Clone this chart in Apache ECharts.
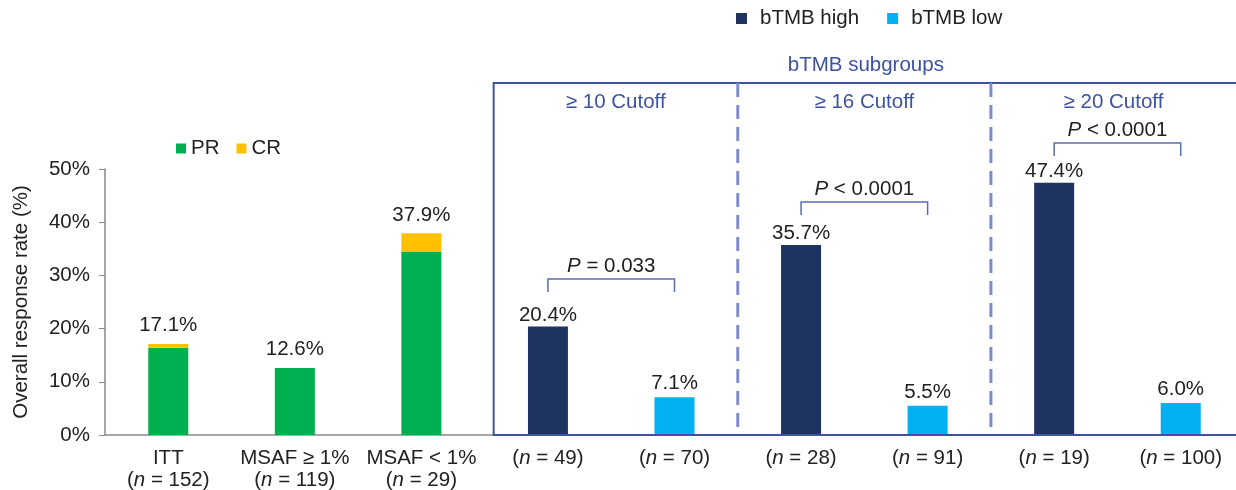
<!DOCTYPE html>
<html>
<head>
<meta charset="utf-8">
<script src="https://cdn.jsdelivr.net/npm/echarts@6/dist/echarts.min.js"></script>
<style>
  html, body { margin: 0; padding: 0; background: #fff; }
  #chart { width: 1236px; height: 490px; }
</style>
</head>
<body>
<div id="chart"></div>
<script>
// categories and n labels
const categories = ['ITT', 'MSAF ≥ 1%', 'MSAF < 1%', '', '', '', '', '', ''];
const nLabels = ['152', '119', '29', '49', '70', '28', '91', '19', '100'];

// overall response, %
const prValues = [16.4, 12.6, 34.5, '-', '-', '-', '-', '-', '-'];
const crValues = [0.7, 0, 3.4, '-', '-', '-', '-', '-', '-'];
const totalLabels = ['17.1%', '12.6%', '37.9%'];
const highValues = ['-', '-', '-', 20.4, '-', 35.7, '-', 47.4, '-'];
const lowValues = ['-', '-', '-', '-', 7.1, '-', 5.5, '-', 6.0];

// subgroup annotations
const cutoffLabels = ['≥ 10 Cutoff', '≥ 16 Cutoff', '≥ 20 Cutoff'];
const pLabels = ['= 0.033', '< 0.0001', '< 0.0001'];
const bracketLevels = [29.3, 43.8, 54.9];
const bracketPairs = [[3, 4], [5, 6], [7, 8]];

const FONT = '"Liberation Sans", Arial, sans-serif';
const FS = 20.5;
const BLUE = '#3d52a1';

const chart = echarts.init(document.getElementById('chart'));

chart.setOption({
  animation: false,
  textStyle: { fontFamily: FONT },
  legend: [
    {
      left: 176,
      top: 138,
      padding: 0,
      icon: 'rect',
      itemWidth: 10,
      itemHeight: 10,
      itemGap: 17,
      data: ['PR', 'CR'],
      textStyle: { fontSize: FS, color: '#222', fontFamily: FONT },
    },
    {
      left: 736,
      top: 8,
      padding: 0,
      icon: 'rect',
      itemWidth: 11,
      itemHeight: 11,
      itemGap: 28,
      data: ['bTMB high', 'bTMB low'],
      textStyle: { fontSize: FS, color: '#222', fontFamily: FONT, padding: [0, 0, 0, 8] },
    },
  ],
  grid: {
    left: 105,
    top: 169,
    bottom: 55,
    width: 1139,
    outerBoundsMode: 'none',
  },
  xAxis: {
    type: 'category',
    data: categories,
    axisLine: { lineStyle: { color: '#8a8a8a', width: 1.5 } },
    axisTick: { show: false },
    axisLabel: {
      margin: 12,
      interval: 0,
      fontSize: FS,
      color: '#222',
      lineHeight: 22,
      fontFamily: FONT,
      formatter(value, idx) {
        const n = '({i|n} = ' + nLabels[idx] + ')';
        return value ? value + '\n' + n : n;
      },
      rich: {
        i: { fontStyle: 'italic', fontSize: FS, color: '#222', fontFamily: FONT, lineHeight: 22 },
      },
    },
  },
  yAxis: {
    type: 'value',
    min: 0,
    max: 50,
    interval: 10,
    name: 'Overall response rate (%)',
    nameLocation: 'middle',
    nameGap: 73,
    nameTextStyle: { fontSize: FS, color: '#222', fontFamily: FONT },
    axisLine: { show: true, lineStyle: { color: '#8a8a8a', width: 1.5 } },
    axisTick: { show: true, length: 6, lineStyle: { color: '#8a8a8a' } },
    axisLabel: { formatter: '{value}%', fontSize: FS, color: '#222', margin: 15, fontFamily: FONT },
    splitLine: { show: false },
  },
  series: [
    {
      name: 'PR',
      type: 'bar',
      stack: 'left',
      barWidth: 40,
      barGap: '-100%',
      itemStyle: { color: '#00b050' },
      data: prValues,
    },
    {
      name: 'CR',
      type: 'bar',
      stack: 'left',
      barWidth: 40,
      barGap: '-100%',
      itemStyle: { color: '#ffc000' },
      label: {
        show: true,
        position: 'top',
        distance: 8,
        fontSize: FS,
        color: '#222',
        fontFamily: FONT,
        formatter: (p) => totalLabels[p.dataIndex] || '',
      },
      data: crValues,
    },
    {
      name: 'bTMB high',
      type: 'bar',
      barWidth: 40,
      barGap: '-100%',
      itemStyle: { color: '#1f3360' },
      label: {
        show: true, position: 'top', distance: 1, fontSize: FS, color: '#222', fontFamily: FONT,
        formatter: (p) => p.value.toFixed(1) + '%',
      },
      data: highValues,
    },
    {
      name: 'bTMB low',
      type: 'bar',
      barWidth: 40,
      barGap: '-100%',
      itemStyle: { color: '#00b0f0' },
      label: {
        show: true, position: 'top', distance: 3, fontSize: FS, color: '#222', fontFamily: FONT,
        formatter: (p) => p.value.toFixed(1) + '%',
      },
      data: lowValues,
    },
  ],
});

// annotations built from axis positions
const px = (i) => chart.convertToPixel({ xAxisIndex: 0 }, i);
const py = (v) => chart.convertToPixel({ yAxisIndex: 0 }, v);
const mid = (a, b) => (px(a) + px(b)) / 2;

const boxTop = 83;
const baseY = py(0);
const boxLeft = mid(2, 3) + 9;
const boxRight = 1240;
const seps = [mid(4, 5), mid(6, 7)];
const panelEdges = [boxLeft, seps[0], seps[1], 1236];

const graphics = [];
graphics.push({
  type: 'rect',
  shape: { x: boxLeft, y: boxTop, width: boxRight - boxLeft, height: baseY - boxTop },
  style: { fill: 'none', stroke: BLUE, lineWidth: 2 },
  z: 10,
});
seps.forEach((x) => {
  graphics.push({
    type: 'line',
    shape: { x1: x, y1: boxTop, x2: x, y2: baseY },
    style: { stroke: '#7f8ccb', lineWidth: 3, lineDash: [14, 8] },
    z: 10,
  });
});
graphics.push({
  type: 'text',
  style: {
    text: 'bTMB subgroups', x: (boxLeft + 1236) / 2 + 1, y: 65,
    align: 'center', verticalAlign: 'middle', fontSize: FS, fill: BLUE, fontFamily: FONT,
  },
});
cutoffLabels.forEach((t, i) => {
  graphics.push({
    type: 'text',
    style: {
      text: t, x: (panelEdges[i] + panelEdges[i + 1]) / 2, y: 102,
      align: 'center', verticalAlign: 'middle', fontSize: FS, fill: BLUE, fontFamily: FONT,
    },
  });
});
bracketPairs.forEach(([a, b], i) => {
  const x1 = px(a);
  const x2 = px(b);
  const y = py(bracketLevels[i]);
  graphics.push({
    type: 'polyline',
    shape: { points: [[x1, y + 13], [x1, y], [x2, y], [x2, y + 13]] },
    style: { fill: 'none', stroke: '#5a6cb0', lineWidth: 1.5 },
  });
  graphics.push({
    type: 'text',
    style: {
      text: '{i|P} ' + pLabels[i], x: (x1 + x2) / 2, y: y - 13,
      align: 'center', verticalAlign: 'middle', fontSize: FS, fill: '#222', fontFamily: FONT,
      rich: { i: { fontStyle: 'italic', fontSize: FS, fill: '#222', fontFamily: FONT } },
    },
  });
});

chart.setOption({ graphic: graphics });
</script>
</body>
</html>
